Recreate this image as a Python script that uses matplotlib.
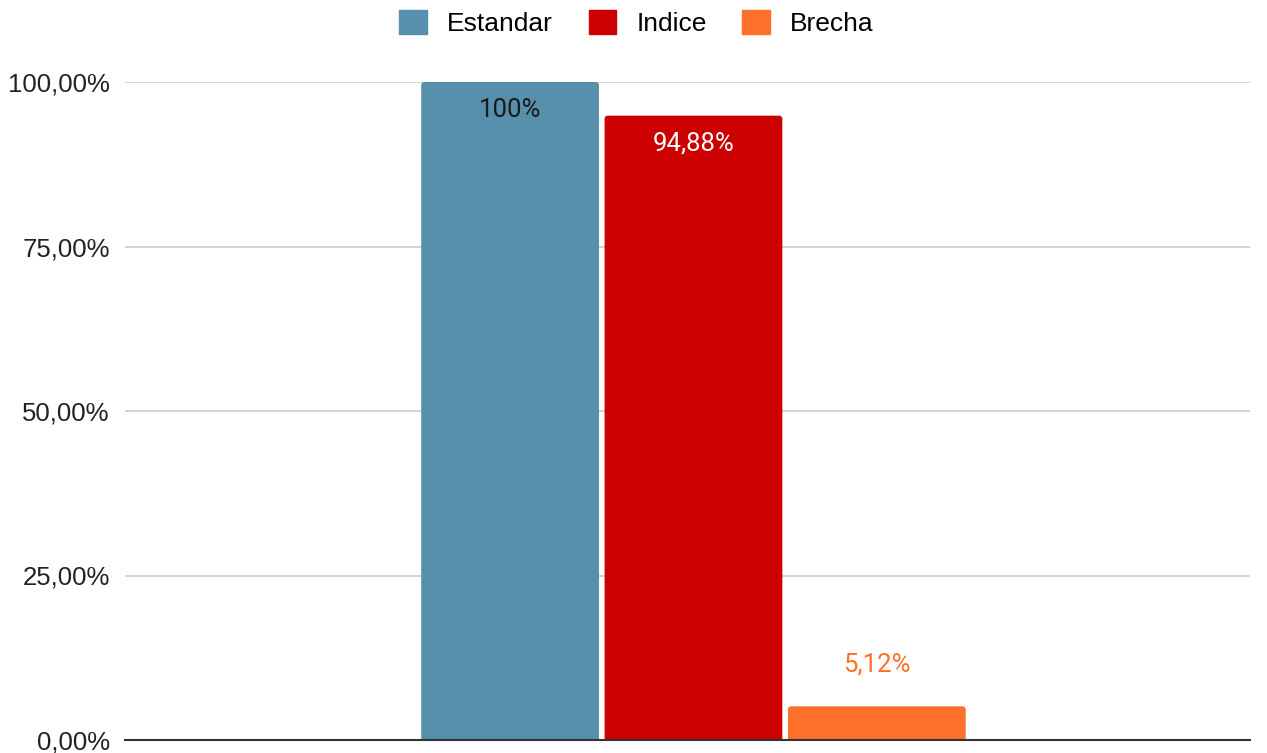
import matplotlib.pyplot as plt
from matplotlib.patches import FancyBboxPatch
from matplotlib.ticker import FuncFormatter

plt.rcParams['font.family'] = ['Liberation Sans', 'DejaVu Sans']

# datos
series = ['Estandar', 'Indice', 'Brecha']
valores = [100.0, 94.88, 5.12]
etiquetas = ['100%', '94,88%', '5,12%']
colores = ['#5690ad', '#cc0000', '#ff702d']
yticks = [0, 25, 50, 75, 100]

fig = plt.figure(figsize=(12.67, 7.53), dpi=100)
ax = fig.add_axes([125 / 1267, 13 / 753, 1125 / 1267, 658 / 753])
ax.set_xlim(0, 1)
ax.set_ylim(0, 100)

ancho = 0.158
paso = 0.163
x = [0.5053 + (i - 1) * paso for i in range(len(series))]

barras = ax.bar(x, valores, width=ancho, color=colores, label=series)
# esquinas redondeadas
for b, c in zip(barras, colores):
    b.set_visible(False)
    p = FancyBboxPatch((b.get_x(), -2), b.get_width(), b.get_height() + 2,
                       boxstyle='round,pad=0,rounding_size=0.0027',
                       mutation_aspect=169, fc=c, ec='none', zorder=3)
    ax.add_patch(p)

# etiquetas de datos
fuente = ['Roboto', 'DejaVu Sans']
ax.text(x[0], valores[0] - 4.3, etiquetas[0], ha='center', va='center',
        fontsize=18.5, color='#1a1a1a', zorder=4, family=fuente)
ax.text(x[1], valores[1] - 4.3, etiquetas[1], ha='center', va='center',
        fontsize=18.5, color='white', zorder=4, family=fuente)
ax.text(x[2], valores[2] + 6.4, etiquetas[2], ha='center', va='center',
        fontsize=18.5, color='#ff702d', zorder=4, family=fuente)

ax.set_yticks(yticks)
ax.yaxis.set_major_formatter(FuncFormatter(lambda v, p: f'{v:.2f}%'.replace('.', ',')))
ax.tick_params(axis='y', length=0, labelsize=18.5, pad=11, colors='#222222')
ax.set_xticks([])
ax.grid(axis='y', color='#cccccc', linewidth=1.2, zorder=0)
ax.set_axisbelow(True)
for s in ['top', 'right', 'left']:
    ax.spines[s].set_visible(False)
ax.spines['bottom'].set_color('#333333')
ax.spines['bottom'].set_linewidth(1.5)
ax.spines['bottom'].set_zorder(5)

leg = fig.legend(handles=barras, labels=series, loc='center', bbox_to_anchor=(0.5 + 3 / 1267, 1 - 23 / 753),
                 ncol=3, frameon=False, fontsize=19, handlelength=1.05, handleheight=1.05,
                 columnspacing=1.36, handletextpad=0.75)
for h, c in zip(leg.legend_handles, colores):
    h.set_visible(True)
    h.set_color(c)

fig.savefig('out.png', dpi=100)
